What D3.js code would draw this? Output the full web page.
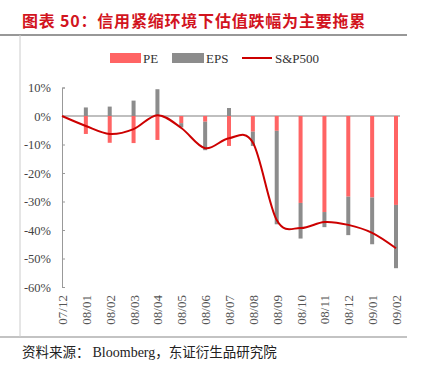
<!DOCTYPE html>
<html><head><meta charset="utf-8">
<script src="https://cdn.jsdelivr.net/npm/d3@7"></script>
<style>
html,body{margin:0;padding:0;background:#fff;}
svg{display:block;}
</style></head>
<body>
<svg id="c" width="422" height="383"></svg>
<script>
const categories = ["07/12","08/01","08/02","08/03","08/04","08/05","08/06","08/07","08/08","08/09","08/10","08/11","08/12","09/01","09/02"];
const peValues  = [0, -6.3, -9.4, -9.5, -8.4, -2.5, -2.0, -10.5, -5.5, -5.2, -30.5, -33.7, -28.3, -28.6, -31.2];
const epsValues = [0, 3.0, 3.3, 5.4, 9.4, -1.5, -10.0, 2.8, -5.0, -32.8, -12.5, -5.3, -13.5, -16.4, -22.2];
const spxValues = [0, -3.5, -6.3, -4.6, 0.3, -4.2, -11.3, -7.8, -9.3, -36.5, -39.3, -37.2, -38.2, -41.0, -46.4];
const yTicks = [10, 0, -10, -20, -30, -40, -50, -60];
const seriesNames = ["PE", "EPS", "S&P500"];

const svg = d3.select("#c");
const serif = "'Liberation Serif','DejaVu Serif',serif";
const cjk = "'Noto Sans CJK SC','Liberation Serif',sans-serif";

// frame
svg.append("line").attr("x1",0).attr("x2",407).attr("y1",35).attr("y2",35).attr("stroke","#333").attr("stroke-width",1.2);
svg.append("line").attr("x1",0).attr("x2",407).attr("y1",337).attr("y2",337).attr("stroke","#888").attr("stroke-width",1.2);
svg.append("line").attr("x1",20).attr("x2",20).attr("y1",35).attr("y2",337).attr("stroke","#ccc").attr("stroke-width",1);

// title
svg.append("text").attr("x",22).attr("y",27).attr("fill","#d2141e").attr("font-family",cjk)
  .attr("font-weight","bold").attr("font-size",16).attr("letter-spacing","0.8px")
  .text("图表 50：信用紧缩环境下估值跌幅为主要拖累");

// source
const src = svg.append("text").attr("x",22).attr("y",357).attr("fill","#222").attr("font-family",cjk)
  .attr("font-size",13.5);
src.append("tspan").text("资料来源： ");
src.append("tspan").attr("font-family",serif).attr("font-size",14).text("Bloomberg");
src.append("tspan").text("，东证衍生品研究院");

const x = d3.scalePoint().domain(categories).range([62, 396]);
const y = d3.scaleLinear().domain([-60, 10]).range([287, 87.5]);

// y axis
const ya = svg.append("g").attr("transform","translate(62,0)")
  .call(d3.axisLeft(y).tickValues(yTicks).tickSize(-3).tickPadding(11).tickFormat(d => d + "%"));
ya.select(".domain").attr("stroke","#999");
ya.selectAll(".tick line").attr("stroke","#999");
ya.selectAll("text").attr("font-family",serif).attr("font-size",12.5).attr("fill","#444");

// zero line
svg.append("line").attr("x1",62).attr("x2",400).attr("y1",y(0)).attr("y2",y(0)).attr("stroke","#aaa").attr("stroke-width",1.5);

// x labels
const xa = svg.append("g").attr("transform",`translate(0,${y(-60)})`).call(d3.axisBottom(x).tickSize(0).tickPadding(0));
xa.select(".domain").remove();
xa.selectAll("text").attr("font-family",serif).attr("font-size",13).attr("fill","#555")
  .attr("text-anchor","end").attr("transform","rotate(-90)").attr("x",-8).attr("y",0).attr("dy","0.35em");

// stacked bars
const bw = 4;
const bars = svg.append("g");
categories.forEach((c, i) => {
  const pe = peValues[i], eps = epsValues[i];
  let pos = 0, neg = 0;
  const segs = [];
  [[pe, "#ff6464"], [eps, "#8c8c8c"]].forEach(([v, col]) => {
    if (v >= 0) { segs.push([pos, pos + v, col]); pos += v; }
    else { segs.push([neg + v, neg, col]); neg += v; }
  });
  segs.forEach(([a, b, col]) => {
    if (b - a <= 0) return;
    bars.append("rect").attr("x", x(c) - bw/2).attr("width", bw)
      .attr("y", y(b)).attr("height", y(a) - y(b)).attr("fill", col);
  });
});

// line
const line = d3.line().x((d,i) => x(categories[i])).y(d => y(d)).curve(d3.curveCardinal.tension(0));
svg.append("path").datum(spxValues).attr("d", line).attr("fill","none").attr("stroke","#cc0000").attr("stroke-width",2);

// legend
const lg = svg.append("g").attr("font-family",serif).attr("font-size",13).attr("fill","#333");
lg.append("rect").attr("x",110).attr("y",53).attr("width",31).attr("height",10).attr("fill","#ff6464");
lg.append("text").attr("x",143).attr("y",62.5).text(seriesNames[0]);
lg.append("rect").attr("x",172).attr("y",53).attr("width",32).attr("height",10).attr("fill","#8c8c8c");
lg.append("text").attr("x",206).attr("y",62.5).text(seriesNames[1]);
lg.append("line").attr("x1",242).attr("x2",272).attr("y1",58).attr("y2",58).attr("stroke","#cc0000").attr("stroke-width",2);
lg.append("text").attr("x",275).attr("y",62.5).text(seriesNames[2]);
</script>
</body></html>
